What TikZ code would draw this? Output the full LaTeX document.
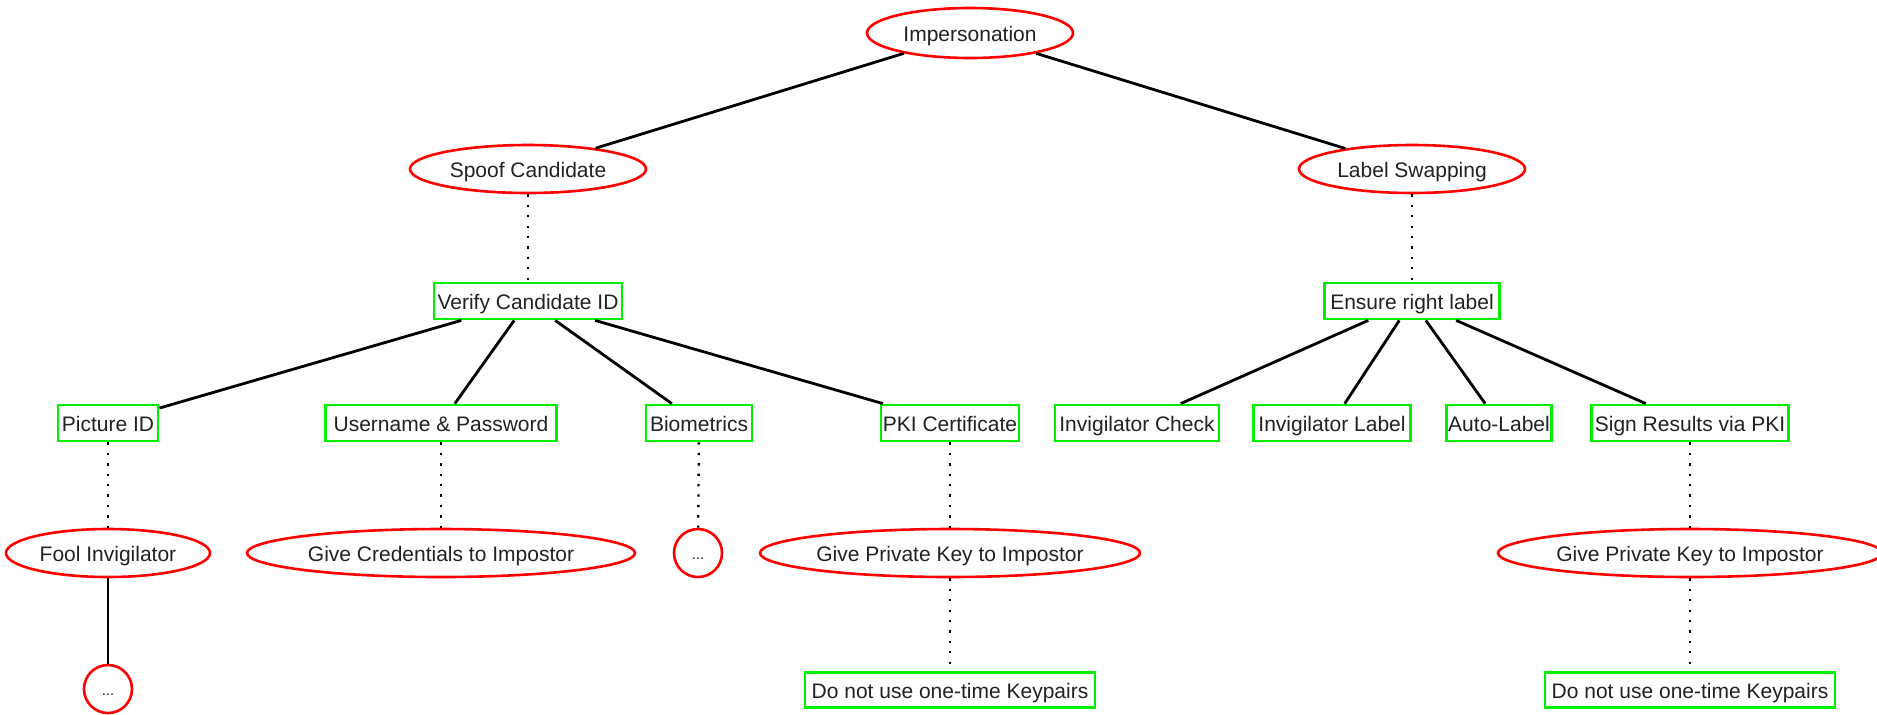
\documentclass[tikz,border=0pt]{standalone}
\usepackage{fontspec}
\setmainfont{Liberation Sans}
\usetikzlibrary{shapes.geometric}
\definecolor{attackred}{RGB}{255,0,0}
\definecolor{defgreen}{RGB}{0,240,0}
\definecolor{txt}{RGB}{34,34,34}
\tikzset{
  label text/.style={text=txt, font=\fontsize{10.5}{12}\selectfont,
    text height=8.4pt, text depth=0pt},
  attack/.style={ellipse, draw=attackred, line width=1.3pt, fill=white,
    inner sep=0pt, label text},
  defense/.style={rectangle, draw=defgreen, line width=1.4pt, fill=white,
    inner sep=0pt, minimum height=18pt, label text},
  refine/.style={line width=1.4pt, black},
  counter/.style={line width=1.15pt, black, dash pattern=on 1.15pt off 4.05pt},
}
\begin{document}
\begin{tikzpicture}[x=0.5pt, y=-0.5pt]
\useasboundingbox (0,0) rectangle (1877,714);

% attack goals
\node[attack, minimum width=103pt, minimum height=25pt] (imp) at (970,33) {Impersonation};
\node[attack, minimum width=118pt, minimum height=24pt] (spoof) at (528,169) {Spoof Candidate};
\node[attack, minimum width=113pt, minimum height=24pt] (swap) at (1412,169) {Label Swapping};

% countermeasures
\node[defense, minimum width=94pt] (verify) at (528,301) {Verify Candidate ID};
\node[defense, minimum width=87.5pt] (ensure) at (1412,301) {Ensure right label};

\node[defense, minimum width=50pt] (pic) at (108,423) {Picture ID};
\node[defense, minimum width=115.5pt] (user) at (441,423) {Username \& Password};
\node[defense, minimum width=53pt] (bio) at (699,423) {Biometrics};
\node[defense, minimum width=69pt] (pki) at (950,423) {PKI Certificate};
\node[defense, minimum width=82pt] (ichk) at (1137,423) {Invigilator Check};
\node[defense, minimum width=78.5pt] (ilab) at (1332,423) {Invigilator Label};
\node[defense, minimum width=52.5pt] (auto) at (1499,423) {Auto-Label};
\node[defense, minimum width=98.5pt] (sign) at (1690,423) {Sign Results via PKI};

% attacks against the countermeasures
\node[attack, minimum width=102pt, minimum height=24pt] (fool) at (108,553) {Fool Invigilator};
\node[attack, minimum width=194pt, minimum height=24pt] (cred) at (441,553) {Give Credentials to Impostor};
\node[attack, circle, minimum size=24pt, font=\fontsize{7.5}{9}\selectfont, text height=6.5pt] (more1) at (698,553) {...};
\node[attack, minimum width=190pt, minimum height=24pt] (gpk1) at (950,553) {Give Private Key to Impostor};
\node[attack, minimum width=192pt, minimum height=24pt] (gpk2) at (1690,553) {Give Private Key to Impostor};

\node[attack, circle, minimum size=24pt, font=\fontsize{7.5}{9}\selectfont, text height=6.5pt] (more2) at (108,689) {...};
\node[defense, minimum width=145pt, minimum height=17.5pt] (dn1) at (950,690) {Do not use one-time Keypairs};
\node[defense, minimum width=145pt, minimum height=17.5pt] (dn2) at (1690,690) {Do not use one-time Keypairs};

% refinements
\draw[refine] (imp) -- (spoof);
\draw[refine] (imp) -- (swap);
\foreach \c in {pic,user,bio,pki} \draw[refine] (verify) -- (\c);
\foreach \c in {ichk,ilab,auto,sign} \draw[refine] (ensure) -- (\c);
\draw[refine] (fool) -- (more2);

% countermeasure links
\draw[counter] (spoof) -- (verify);
\draw[counter] (swap) -- (ensure);
\draw[counter] (pic) -- (fool);
\draw[counter] (user) -- (cred);
\draw[counter] (bio) -- (more1);
\draw[counter] (pki) -- (gpk1);
\draw[counter] (gpk1) -- (dn1);
\draw[counter] (sign) -- (gpk2);
\draw[counter] (gpk2) -- (dn2);
\end{tikzpicture}
\end{document}
